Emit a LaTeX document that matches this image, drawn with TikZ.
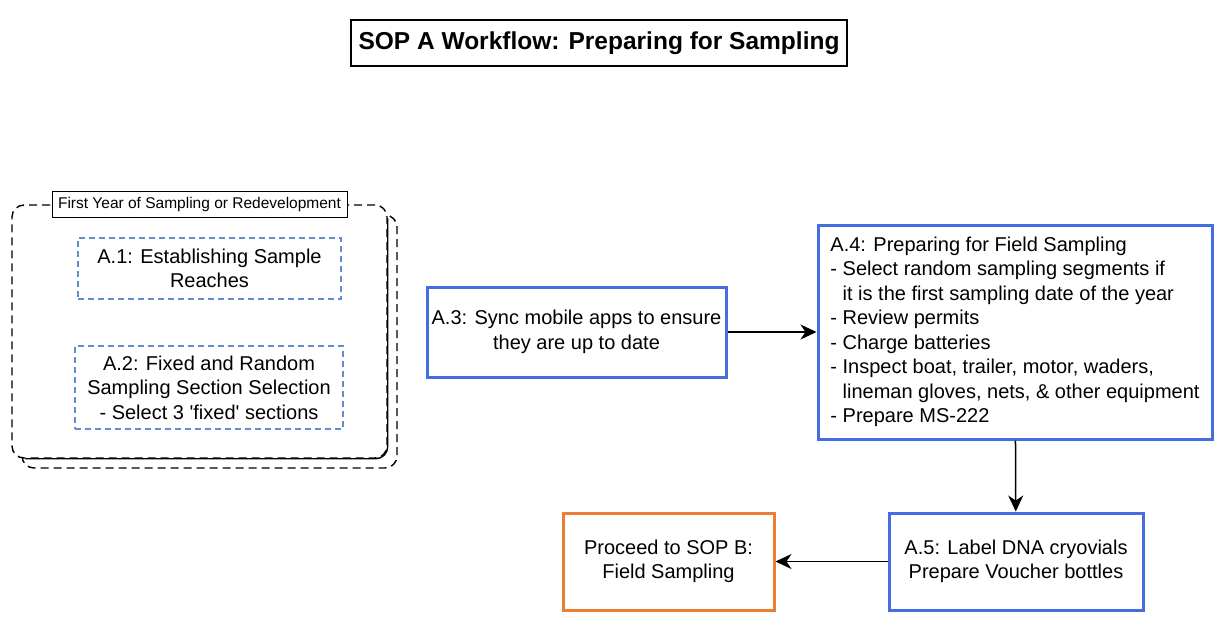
\documentclass[tikz,border=0pt]{standalone}
\usepackage{fontspec}
\setmainfont{Liberation Sans}
\usetikzlibrary{arrows.meta,positioning}

\definecolor{boxblue}{RGB}{70,108,226}
\definecolor{dashblue}{RGB}{96,140,210}
\definecolor{sopB}{RGB}{236,126,52}

\begin{document}
\begin{tikzpicture}[
    x=1pt, y=-1pt,
    every node/.style={font=\fontsize{20}{24.5}\selectfont, inner sep=0pt},
    title/.style={rectangle, draw, line width=1.4pt, font=\fontsize{24.5}{28}\selectfont\bfseries},
    groupbox/.style={rectangle, draw, dashed, dash pattern=on 8pt off 5pt, line width=1.4pt, rounded corners=12pt, fill=white},
    grouplabel/.style={rectangle, draw, line width=1pt, fill=white, font=\fontsize{15.5}{18}\selectfont},
    subtask/.style={rectangle, draw=dashblue, dash pattern=on 6pt off 4pt, line width=1.3pt, align=center},
    task/.style={rectangle, draw=boxblue, line width=3pt, fill=white, align=center},
    outcome/.style={rectangle, draw=sopB, line width=3pt, fill=white, align=center},
    arrow/.style={-{Stealth[length=16pt, width=15pt, inset=5pt]}, line width=1.5pt}
]
\useasboundingbox (0,0) rectangle (1215,624);

% Title
\node[title, minimum width=496, minimum height=46] (title) at (599,43) {SOP A Workflow: Preparing for Sampling};

% First year group
\node[groupbox, minimum width=375, minimum height=253] (groupback) at (209.5,341.5) {};
\node[groupbox, minimum width=375, minimum height=253] (group) at (199.5,331.5) {};
\draw[line width=1.4pt, rounded corners=12pt] ([yshift=-14pt]group.north east) -- (group.south east) -- ([xshift=14pt]group.south west);
\node[grouplabel, minimum width=295, minimum height=26] (grouptitle) at (group.north) {First Year of Sampling or Redevelopment};

\node[subtask, minimum width=263, minimum height=61] (a1) at (209.5,268.5) {A.1: Establishing Sample\\Reaches};
\node[subtask, minimum width=268, minimum height=83] (a2) at (209,387.5) {A.2: Fixed and Random\\Sampling Section Selection\\- Select 3 \textquotesingle fixed\textquotesingle{} sections};

% Main tasks
\node[task, minimum width=299, minimum height=90] (a3) at (576.5,332) {A.3: Sync mobile apps to ensure\\they are up to date};
\node[task, minimum width=394, minimum height=214, align=left] (a4) at (1015,332) {A.4: Preparing for Field Sampling\\
- Select random sampling segments if\\
\phantom{- }it is the first sampling date of the year\\
- Review permits\\
- Charge batteries\\
- Inspect boat, trailer, motor, waders,\\
\phantom{- }lineman gloves, nets, \& other equipment\\
- Prepare MS-222};
\node[task, minimum width=254, minimum height=97] (a5) at (1016,561.5) {A.5: Label DNA cryovials\\Prepare Voucher bottles};

% Next SOP
\node[outcome, minimum width=211, minimum height=97] (sopb) at (668.5,561.5) {Proceed to SOP B:\\Field Sampling};

% Flow
\draw[arrow] (a3) -- (a4);
\draw[arrow] (a4) -- (a5);
\draw[arrow] (a5) -- (sopb);

\end{tikzpicture}
\end{document}
